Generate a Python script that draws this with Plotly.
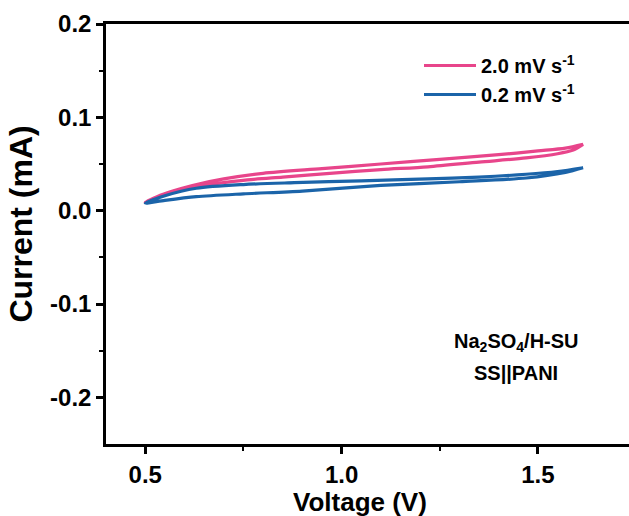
import plotly.graph_objects as go

# ---- data ----
v_fast_fwd = [0.50, 0.53, 0.57, 0.62, 0.70, 0.80, 0.95, 1.10, 1.25, 1.40, 1.50, 1.57, 1.615]
i_fast_fwd = [0.009, 0.015, 0.021, 0.027, 0.034, 0.040, 0.045, 0.050, 0.055, 0.060, 0.064, 0.067, 0.071]
v_fast_rev = [1.615, 1.59, 1.55, 1.47, 1.35, 1.22, 1.10, 0.97, 0.85, 0.76, 0.68, 0.63, 0.58, 0.54, 0.50]
i_fast_rev = [0.071, 0.065, 0.061, 0.0565, 0.052, 0.047, 0.044, 0.040, 0.036, 0.033, 0.029, 0.026, 0.021, 0.016, 0.009]

v_slow_fwd = [0.50, 0.55, 0.63, 0.75, 0.88, 1.05, 1.22, 1.35, 1.47, 1.55, 1.615]
i_slow_fwd = [0.008, 0.016, 0.024, 0.028, 0.030, 0.032, 0.034, 0.036, 0.039, 0.042, 0.046]
v_slow_rev = [1.615, 1.57, 1.47, 1.30, 1.10, 0.90, 0.75, 0.63, 0.55, 0.50]
i_slow_rev = [0.046, 0.041, 0.035, 0.031, 0.027, 0.021, 0.018, 0.015, 0.011, 0.008]

labels = ["<b>2.0 mV s<sup>-1</sup></b>", "<b>0.2 mV s<sup>-1</sup></b>"]
colors = ["#E8458B", "#1B64A9"]

x_range = [0.4, 1.732]
y_range = [-0.25, 0.2]
x_ticks = [0.5, 1.0, 1.5]
x_tick_labels = ["0.5", "1.0", "1.5"]
x_minor = [0.75, 1.25]
y_ticks = [-0.2, -0.1, 0.0, 0.1, 0.2]
y_tick_labels = ["-0.2", "-0.1", "0.0", "0.1", "0.2"]
y_minor = [-0.15, -0.05, 0.05, 0.15]

FONT = "Liberation Sans, Arial, sans-serif"

fig = go.Figure()
fig.add_trace(go.Scatter(x=v_fast_fwd + v_fast_rev, y=i_fast_fwd + i_fast_rev, mode="lines",
                         line=dict(color=colors[0], width=3.2, shape="spline", smoothing=0.8),
                         name=labels[0]))
fig.add_trace(go.Scatter(x=v_slow_fwd + v_slow_rev, y=i_slow_fwd + i_slow_rev, mode="lines",
                         line=dict(color=colors[1], width=3.2, shape="spline", smoothing=0.8),
                         name=labels[1]))

axis_common = dict(showline=True, linecolor="black", linewidth=2.5, ticks="outside",
                   ticklen=7, tickwidth=2.5, tickcolor="black", showgrid=False, zeroline=False,
                   tickfont=dict(family=FONT, size=24, color="black", weight="bold"))

fig.update_xaxes(range=x_range, tickmode="array", tickvals=x_ticks, ticktext=x_tick_labels,
                 mirror=True,
                 minor=dict(ticks="outside", ticklen=4, tickwidth=2, tickcolor="black",
                            tickmode="array", tickvals=x_minor),
                 **axis_common)
fig.update_yaxes(range=y_range, tickmode="array", tickvals=y_ticks, ticktext=y_tick_labels,
                 minor=dict(ticks="outside", ticklen=4, tickwidth=2, tickcolor="black",
                            tickmode="array", tickvals=y_minor),
                 **axis_common)

fig.add_annotation(text="<b>Voltage (V)</b>", xref="paper", yref="paper", x=0.485, y=-0.138,
                   yanchor="middle", xanchor="center", showarrow=False,
                   font=dict(family=FONT, size=26, color="black"))
fig.add_annotation(text="<b>Current (mA)</b>", xref="paper", yref="paper", x=-0.162, y=0.523,
                   textangle=-90, xanchor="center", yanchor="middle", showarrow=False,
                   font=dict(family=FONT, size=32, color="black"))
fig.add_annotation(text="<b>Na<sub>2</sub>SO<sub>4</sub>/H-SU</b>", xref="paper", yref="paper",
                   x=(516 - 106) / 523, y=(444 - 342) / 420, showarrow=False,
                   xanchor="center", yanchor="middle", font=dict(family=FONT, size=20, color="black"))
fig.add_annotation(text="<b>SS||PANI</b>", xref="paper", yref="paper",
                   x=(516 - 106) / 523, y=(444 - 373) / 420, showarrow=False,
                   xanchor="center", yanchor="middle", font=dict(family=FONT, size=20, color="black"))

fig.update_layout(
    width=629, height=516,
    margin=dict(l=106, r=0, t=24, b=72),
    plot_bgcolor="white", paper_bgcolor="white",
    showlegend=True,
    legend=dict(x=(419 - 106) / 523, y=(444 - 46) / 420, xanchor="left", yanchor="top",
                font=dict(family=FONT, size=20, color="black"), itemwidth=52,
                bgcolor="rgba(0,0,0,0)", tracegroupgap=0),
)

fig.write_html("out.html")
